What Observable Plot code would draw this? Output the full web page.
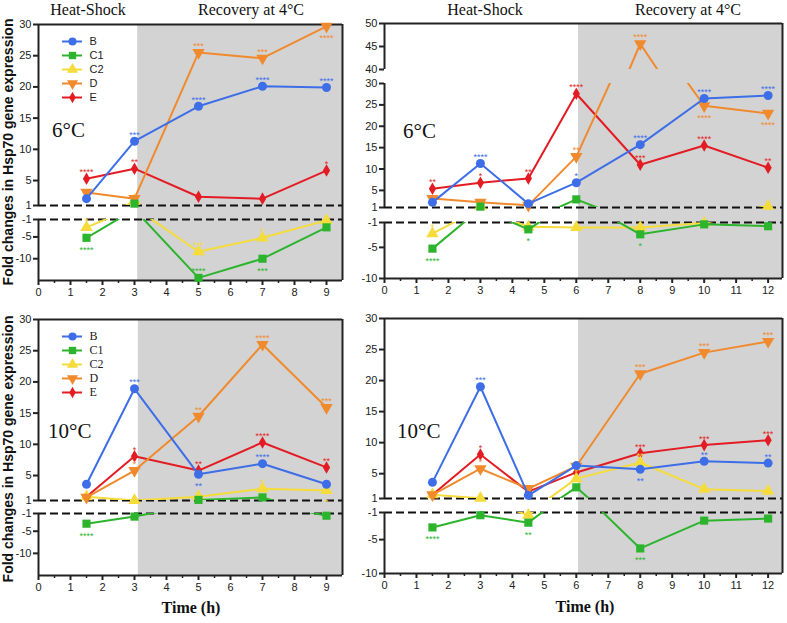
<!DOCTYPE html>
<html><head><meta charset="utf-8">
<script src="https://cdn.jsdelivr.net/npm/d3@7"></script>
<script src="https://cdn.jsdelivr.net/npm/@observablehq/plot@0.6"></script>
<style>
body{margin:0;background:#fff;}
#root{position:relative;width:787px;height:623px;overflow:hidden;background:#fff;}
</style></head><body><div id="root"></div><script>
// ---------- data ----------
const SERIES = ["B", "C1", "C2", "D", "E"];
const COLOR = {B: "#3d6ee8", C1: "#2db42d", C2: "#f5dc3a", D: "#f08a2d", E: "#e31c24"};
const DRAW_ORDER = ["E", "C2", "D", "C1", "B"];

// tick labels
const X_TICKS_9 = [0, 1, 2, 3, 4, 5, 6, 7, 8, 9];
const X_TICKS_12 = [0, 1, 2, 3, 4, 5, 6, 7, 8, 9, 10, 11, 12];
const Y_TICKS_POS = [1, 5, 10, 15, 20, 25, 30];
const Y_TICKS_NEG = [-1, -5, -10];
const Y_TICKS_TOP = [40, 45, 50];

// Top-left: 6°C, 3 h heat shock
const TL_T = [1.5, 3, 5, 7, 9];
const TL_B = [2.1, 11.3, 16.9, 20.1, 19.9];
const TL_C1 = [-5.2, 1.3, -14.4, -10.0, -2.8];
const TL_C2 = [-2.8, 1.8, -8.4, -5.2, -1.2];
const TL_D = [3.1, 2.1, 25.5, 24.6, 29.7];
const TL_E = [5.3, 6.9, 2.4, 2.1, 6.6];
// significance ("_" = printed below the marker)
const TL_B_SIG = ["", "***", "****", "****", "****"];
const TL_C1_SIG = ["_****", "", "****", "_***", ""];
const TL_C2_SIG = ["*", "", "***", "*", ""];
const TL_D_SIG = ["", "", "***", "***", "_****"];
const TL_E_SIG = ["****", "**", "", "", "*"];

// Top-right: 6°C, 6 h heat shock
const TR_T = [1.5, 3, 4.5, 6, 8, 10, 12];
const TR_B = [2.2, 11.3, 1.9, 6.8, 15.7, 26.5, 27.2];
const TR_C1 = [-5.2, 1.2, -2.1, 2.9, -2.9, -1.3, -1.6];
const TR_C2 = [-2.8, 1.3, -1.7, -1.8, -1.8, -1.1, 1.3];
const TR_D = [3.1, 2.2, 1.5, 12.9, 45.6, 24.8, 23.0];
const TR_E = [5.4, 6.8, 7.8, 27.6, 11.0, 15.5, 10.3];
const TR_B_SIG = ["", "****", "", "*", "****", "****", "****"];
const TR_C1_SIG = ["_****", "", "_*", "", "_*", "", ""];
const TR_C2_SIG = ["*", "", "", "", "", "", ""];
const TR_D_SIG = ["", "", "", "**", "****", "_****", "_****"];
const TR_E_SIG = ["**", "*", "**", "****", "***", "****", "**"];

// Bottom-left: 10°C, 3 h heat shock
const BL_T = [1.5, 3, 5, 7, 9];
const BL_B = [3.6, 18.9, 5.2, 6.9, 3.6];
const BL_C1 = [-3.3, -1.7, 1.1, 1.5, -1.5];
const BL_C2 = [1.6, 1.0, 1.6, 2.9, 2.6];
const BL_D = [1.5, 5.8, 14.5, 26.0, 15.9];
const BL_E = [1.6, 8.1, 5.8, 10.3, 6.3];
const BL_B_SIG = ["", "***", "_**", "****", ""];
const BL_C1_SIG = ["_****", "", "", "", ""];
const BL_C2_SIG = ["", "", "", "*", "_*"];
const BL_D_SIG = ["", "*", "**", "****", "***"];
const BL_E_SIG = ["", "*", "**", "****", "**"];

// Bottom-right: 10°C, 6 h heat shock
const BR_T = [1.5, 3, 4.5, 6, 8, 10, 12];
const BR_B = [3.6, 19.0, 1.5, 6.3, 5.7, 7.0, 6.7];
const BR_C1 = [-3.2, -1.4, -2.5, 2.8, -6.3, -2.2, -1.9];
const BR_C2 = [1.6, 1.05, -1.4, 4.2, 6.8, 2.5, 2.2];
const BR_D = [1.6, 5.8, 2.6, 6.2, 21.1, 24.5, 26.3];
const BR_E = [1.6, 8.1, 2.1, 5.2, 8.3, 9.6, 10.4];
const BR_B_SIG = ["", "***", "", "", "_**", "**", "**"];
const BR_C1_SIG = ["_****", "", "_**", "", "_***", "", ""];
const BR_C2_SIG = ["", "", "", "", "**", "", ""];
const BR_D_SIG = ["", "*", "", "", "***", "***", "***"];
const BR_E_SIG = ["", "*", "", "", "***", "***", "***"];

// ---------- helpers ----------
const triDown = {
  draw(ctx, size) {
    const s = Math.sqrt(4 * size / Math.sqrt(3));
    const h = s * Math.sqrt(3) / 2;
    ctx.moveTo(0, 2 * h / 3);
    ctx.lineTo(s / 2, -h / 3);
    ctx.lineTo(-s / 2, -h / 3);
    ctx.closePath();
  }
};
const SYMBOL = {B: "circle", C1: "square", C2: "triangle", D: triDown, E: "diamond"};
const RADIUS = {B: 4.5, C1: 4.6, C2: 4.6, D: 4.6, E: 3.8};

function buildRows(times, vals, sigs) {
  const rows = [];
  for (const s of SERIES) times.forEach((t, i) => rows.push({s, t, v: vals[s][i], sig: sigs[s][i]}));
  return rows;
}

const root = document.getElementById("root");
const baseStyle = {fontFamily: '"Liberation Sans", Arial, sans-serif', fontSize: "11px", color: "#222", background: "transparent", overflow: "visible"};
function place(svg, left, top) {
  svg.style.position = "absolute";
  svg.style.left = left + "px";
  svg.style.top = top + "px";
  svg.style.overflow = "visible";
  svg.style.background = "transparent";
  svg.style.maxWidth = "none";
  root.appendChild(svg);
}

function drawPanel(p) {
  const ML = 40, MR = 8;
  const W = ML + (p.xRight - p.xLeft) + MR;
  const segs = p.segs;
  const top0 = segs[0].top, bot = segs[segs.length - 1].bottom;
  const rows = buildRows(p.times, p.vals, p.sigs);
  const minor = d3.range(0.5, p.xmax, 1);

  const bg = Plot.plot({
    width: W, height: bot - top0, marginLeft: ML, marginRight: MR, marginTop: 0, marginBottom: 0,
    x: {domain: [0, p.xmax], axis: null},
    style: baseStyle,
    marks: [
      Plot.barX([{a: p.shade, b: p.xmax}], {x1: "a", x2: "b", fill: "#d3d3d3"}),
      Plot.ruleX([p.xmax], {stroke: "#222", strokeWidth: 2})
    ]
  });
  place(bg, p.xLeft - ML, top0);

  segs.forEach((seg, i) => {
    const isTop = i === 0, isBottom = i === segs.length - 1;
    const [lo, hi] = seg.domain;
    const MB = isBottom ? 24 : 0;
    const marks = [];
    if (seg.dash !== undefined) marks.push(Plot.ruleY([seg.dash], {stroke: "#111", strokeWidth: 2, strokeDasharray: "8,4"}));
    marks.push(Plot.ruleX([0], {stroke: "#222", strokeWidth: 2}));
    if (isTop) marks.push(Plot.ruleY([hi], {stroke: "#222", strokeWidth: 2}));
    if (isBottom) {
      marks.push(Plot.ruleY([lo], {stroke: "#222", strokeWidth: 2}));
      marks.push(Plot.axisX({ticks: p.xticks, tickSize: 5, tickPadding: 3, strokeWidth: 2, label: null, tickFormat: d => String(d)}));
      marks.push(Plot.axisX({ticks: minor, tickSize: 3, strokeWidth: 1.5, label: null, tickFormat: () => ""}));
    }
    marks.push(Plot.axisY({ticks: seg.ticks, tickSize: 5, tickPadding: 2, strokeWidth: 2, label: null, tickFormat: d => String(d)}));
    for (const s of DRAW_ORDER) {
      const sr = rows.filter(r => r.s === s);
      const inside = sr.filter(r => r.v >= lo && r.v <= hi);
      marks.push(Plot.line(sr, {x: "t", y: "v", stroke: COLOR[s], strokeWidth: 2, clip: true}));
      marks.push(Plot.dot(inside, {x: "t", y: "v", symbol: SYMBOL[s], r: RADIUS[s], fill: COLOR[s], stroke: "none"}));
      const above = inside.filter(r => r.sig && r.sig[0] !== "_");
      const below = inside.filter(r => r.sig && r.sig[0] === "_");
      marks.push(Plot.text(above, {x: "t", y: "v", text: "sig", dy: -6.5, fill: COLOR[s], fontSize: 9}));
      marks.push(Plot.text(below, {x: "t", y: "v", text: r => r.sig.slice(1), dy: 12, fill: COLOR[s], fontSize: 9}));
    }
    const svg = Plot.plot({
      width: W, height: (seg.bottom - seg.top) + MB,
      marginLeft: ML, marginRight: MR, marginTop: 0, marginBottom: MB,
      x: isBottom ? {domain: [0, p.xmax]} : {domain: [0, p.xmax], axis: null},
      y: {domain: [lo, hi]},
      style: baseStyle,
      marks
    });
    place(svg, p.xLeft - ML, seg.top);
  });

  if (p.legend) {
    const lg = p.legend;
    const lmarks = [];
    for (const s of SERIES) {
      lmarks.push(Plot.ruleY([s], {y: d => d, x1: 0, x2: 1, stroke: COLOR[s], strokeWidth: 2}));
      lmarks.push(Plot.dot([s], {y: d => d, x: 0.5, symbol: SYMBOL[s], r: RADIUS[s] * 0.9, fill: COLOR[s], stroke: "none"}));
    }
    lmarks.push(Plot.text(SERIES, {y: d => d, x: 1, text: d => d, dx: 7, textAnchor: "start", fill: "#222"}));
    const leg = Plot.plot({
      width: 70, height: lg.height, marginLeft: 0, marginRight: 50, marginTop: 0, marginBottom: 0,
      x: {domain: [0, 1], axis: null},
      y: {type: "point", domain: SERIES, padding: 0.5, axis: null},
      style: {...baseStyle, fontFamily: lg.font, fontSize: lg.size},
      marks: lmarks
    });
    place(leg, lg.left, lg.top);
  }
}

const panels = [
  {times: TL_T, vals: {B: TL_B, C1: TL_C1, C2: TL_C2, D: TL_D, E: TL_E},
   sigs: {B: TL_B_SIG, C1: TL_C1_SIG, C2: TL_C2_SIG, D: TL_D_SIG, E: TL_E_SIG},
   xLeft: 38, xRight: 342, xmax: 9.5, xticks: X_TICKS_9, shade: 3.1,
   segs: [{domain: [1, 30], top: 24, bottom: 205, ticks: Y_TICKS_POS, dash: 1},
          {domain: [-15, -1], top: 219, bottom: 280, ticks: Y_TICKS_NEG, dash: -1}],
   legend: {left: 62, top: 33, height: 71, font: '"Liberation Sans", Arial, sans-serif', size: "11px"}},
  {times: TR_T, vals: {B: TR_B, C1: TR_C1, C2: TR_C2, D: TR_D, E: TR_E},
   sigs: {B: TR_B_SIG, C1: TR_C1_SIG, C2: TR_C2_SIG, D: TR_D_SIG, E: TR_E_SIG},
   xLeft: 384, xRight: 782, xmax: 12.45, xticks: X_TICKS_12, shade: 6.07,
   segs: [{domain: [40, 50], top: 23, bottom: 69, ticks: Y_TICKS_TOP},
          {domain: [1, 30], top: 83, bottom: 207, ticks: Y_TICKS_POS, dash: 1},
          {domain: [-10, -1], top: 222, bottom: 278, ticks: Y_TICKS_NEG, dash: -1}]},
  {times: BL_T, vals: {B: BL_B, C1: BL_C1, C2: BL_C2, D: BL_D, E: BL_E},
   sigs: {B: BL_B_SIG, C1: BL_C1_SIG, C2: BL_C2_SIG, D: BL_D_SIG, E: BL_E_SIG},
   xLeft: 38, xRight: 342, xmax: 9.5, xticks: X_TICKS_9, shade: 3.12,
   segs: [{domain: [1, 30], top: 319, bottom: 500, ticks: Y_TICKS_POS, dash: 1},
          {domain: [-15, -1], top: 513, bottom: 575, ticks: Y_TICKS_NEG, dash: -1}],
   legend: {left: 62, top: 328, height: 71, font: '"Liberation Serif", "Times New Roman", serif', size: "12px"}},
  {times: BR_T, vals: {B: BR_B, C1: BR_C1, C2: BR_C2, D: BR_D, E: BR_E},
   sigs: {B: BR_B_SIG, C1: BR_C1_SIG, C2: BR_C2_SIG, D: BR_D_SIG, E: BR_E_SIG},
   xLeft: 384, xRight: 782, xmax: 12.45, xticks: X_TICKS_12, shade: 6.07,
   segs: [{domain: [1, 30], top: 318, bottom: 498, ticks: Y_TICKS_POS, dash: 1},
          {domain: [-10, -1], top: 512, bottom: 573, ticks: Y_TICKS_NEG, dash: -1}]}
];
panels.forEach(drawPanel);

// ---------- free text ----------
const over = d3.create("svg").attr("width", 787).attr("height", 623)
  .style("position", "absolute").style("left", "0px").style("top", "0px").style("pointer-events", "none");
const SERIF = '"Liberation Serif", "Times New Roman", serif';
const SANS = '"Liberation Sans", Arial, sans-serif';
const texts = [
  {t: "Heat-Shock", x: 88, y: 15, size: 16, fam: SERIF, anchor: "middle"},
  {t: "Recovery at 4°C", x: 251, y: 15, size: 16, fam: SERIF, anchor: "middle"},
  {t: "Heat-Shock", x: 485, y: 15, size: 16, fam: SERIF, anchor: "middle"},
  {t: "Recovery at 4°C", x: 688, y: 15, size: 16, fam: SERIF, anchor: "middle"},
  {t: "6°C", x: 52, y: 137, size: 21, fam: SERIF, anchor: "start"},
  {t: "6°C", x: 403, y: 138, size: 21, fam: SERIF, anchor: "start"},
  {t: "10°C", x: 48, y: 438, size: 21, fam: SERIF, anchor: "start"},
  {t: "10°C", x: 397, y: 438, size: 21, fam: SERIF, anchor: "start"},
  {t: "Time (h)", x: 191, y: 613, size: 16, fam: SERIF, anchor: "middle", bold: true},
  {t: "Time (h)", x: 585, y: 612, size: 16, fam: SERIF, anchor: "middle", bold: true}
];
for (const d of texts) {
  over.append("text").attr("x", d.x).attr("y", d.y).attr("text-anchor", d.anchor)
    .attr("font-family", d.fam).attr("font-size", d.size).attr("font-weight", d.bold ? "bold" : "normal")
    .attr("fill", "#111").text(d.t);
}
for (const cy of [152, 449]) {
  over.append("text").attr("transform", `translate(13,${cy}) rotate(-90)`).attr("text-anchor", "middle")
    .attr("font-family", SANS).attr("font-size", 14).attr("font-weight", "bold").attr("fill", "#111")
    .text("Fold changes in Hsp70 gene expression");
}
root.appendChild(over.node());
</script></body></html>
